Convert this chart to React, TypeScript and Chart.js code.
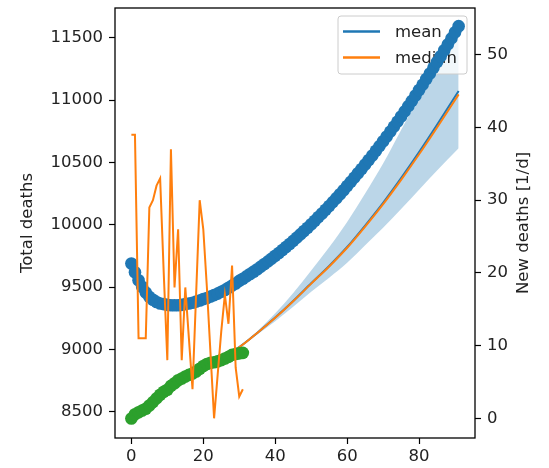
import React, { useEffect, useRef } from "react";
import { Chart, registerables } from "chart.js";

Chart.register(...registerables);

// ---------- data ----------
const X_TICKS = [0, 20, 40, 60, 80];
const LEFT_TICKS = [8500, 9000, 9500, 10000, 10500, 11000, 11500];
const RIGHT_TICKS = [0, 10, 20, 30, 40, 50];

const observedDays = [0, 1, 2, 3, 4, 5, 6, 7, 8, 9, 10, 11, 12, 13, 14, 15, 16, 17, 18, 19, 20, 21, 22, 23, 24, 25, 26, 27, 28, 29, 30, 31];
const observedNewDeaths = [39, 39, 11, 11, 11, 29, 30, 32, 33, 20, 8, 37, 18, 26, 8, 18, 11, 4, 17, 30, 26, 18, 9, 0, 6, 12, 17, 13, 21, 7, 3, 4];
const observedTotalDeaths = [8446, 8480, 8496, 8510, 8524, 8550, 8577, 8607, 8636, 8660, 8676, 8707, 8728, 8752, 8766, 8782, 8795, 8806, 8822, 8845, 8867, 8883, 8892, 8897, 8904, 8914, 8927, 8940, 8956, 8963, 8968, 8972];

const modelDays = [0, 1, 2, 3, 4, 5, 6, 7, 8, 9, 10, 11, 12, 13, 14, 15, 16, 17, 18, 19, 20, 21, 22, 23, 24, 25, 26, 27, 28, 29, 30, 31, 32, 33, 34, 35, 36, 37, 38, 39, 40, 41, 42, 43, 44, 45, 46, 47, 48, 49, 50, 51, 52, 53, 54, 55, 56, 57, 58, 59, 60, 61, 62, 63, 64, 65, 66, 67, 68, 69, 70, 71, 72, 73, 74, 75, 76, 77, 78, 79, 80, 81, 82, 83, 84, 85, 86, 87, 88, 89, 90, 91];
const modelNewDeaths = [
  21.3, 20.1, 19.0, 18.1, 17.3, 16.7, 16.3, 16.0, 15.8, 15.7, 15.6, 15.55, 15.55, 15.55, 15.6, 15.7, 15.8, 15.9, 16.05, 16.2,
  16.4, 16.55, 16.75, 16.95, 17.15, 17.4, 17.65, 17.95, 18.25, 18.55, 18.9, 19.2, 19.52, 19.84, 20.17, 20.51, 20.86, 21.22, 21.59, 21.96,
  22.35, 22.74, 23.15, 23.56, 23.98, 24.41, 24.85, 25.3, 25.76, 26.22, 26.7, 27.18, 27.68, 28.18, 28.69, 29.21, 29.74, 30.28, 30.83, 31.38,
  31.95, 32.52, 33.11, 33.7, 34.3, 34.91, 35.53, 36.16, 36.8, 37.44, 38.1, 38.76, 39.44, 40.12, 40.81, 41.51, 42.22, 42.94, 43.67, 44.4,
  45.15, 45.9, 46.67, 47.44, 48.22, 49.01, 49.81, 50.62, 51.44, 52.26, 53.1, 53.94,
];

const forecastDays = [0, 5, 10, 15, 20, 25, 30, 35, 40, 45, 50, 55, 60, 65, 70, 75, 80, 85, 91];
const forecastMedian = [8470, 8570, 8680, 8790, 8880, 8935, 9017, 9131, 9253, 9386, 9527, 9665, 9815, 9985, 10165, 10360, 10565, 10780, 11045];
const forecastMean = [8470, 8570, 8680, 8790, 8880, 8935, 9018, 9132, 9255, 9388, 9530, 9669, 9821, 9993, 10175, 10373, 10582, 10801, 11072];
const forecastUpper = [8470, 8570, 8680, 8790, 8880, 8935, 9022, 9146, 9290, 9452, 9632, 9818, 10022, 10250, 10490, 10760, 11020, 11270, 11581];
const forecastLower = [8470, 8570, 8680, 8790, 8880, 8935, 9012, 9119, 9225, 9341, 9462, 9575, 9695, 9835, 9975, 10125, 10280, 10435, 10613];

const LEGEND_LABELS = ["mean", "median"];
const LEFT_TITLE = "Total deaths";
const RIGHT_TITLE = "New deaths [1/d]";

// ---------- style ----------
const FONT = "DejaVu Sans";
const FS = 16.5;
const TEXT = "#222222";
const C0 = "#1f77b4";
const C1 = "#ff7f0e";
const C2 = "#2ca02c";

function pts(xs: number[], ys: number[]) {
  return xs.map((x, i) => ({ x, y: ys[i] }));
}

const decorPlugin = {
  id: "mplDecor",
  afterDatasetDraw(chart: any, args: any) {
    if (args.index !== 2) return;
    const { ctx, chartArea: a } = chart;
    const w = 129;
    const h = 58;
    const left = a.right - 8 - w;
    const top = a.top + 8;
    const r = 3;
    ctx.save();
    ctx.beginPath();
    ctx.moveTo(left + r, top);
    ctx.lineTo(left + w - r, top);
    ctx.arcTo(left + w, top, left + w, top + r, r);
    ctx.lineTo(left + w, top + h - r);
    ctx.arcTo(left + w, top + h, left + w - r, top + h, r);
    ctx.lineTo(left + r, top + h);
    ctx.arcTo(left, top + h, left, top + h - r, r);
    ctx.lineTo(left, top + r);
    ctx.arcTo(left, top, left + r, top, r);
    ctx.closePath();
    ctx.fillStyle = "rgba(255,255,255,0.8)";
    ctx.fill();
    ctx.strokeStyle = "#cccccc";
    ctx.lineWidth = 1;
    ctx.stroke();
    const colors = [C0, C1];
    LEGEND_LABELS.forEach((label, i) => {
      const y = top + 15.5 + i * 26;
      ctx.beginPath();
      ctx.moveTo(left + 5, y);
      ctx.lineTo(left + 42, y);
      ctx.strokeStyle = colors[i];
      ctx.lineWidth = 2.5;
      ctx.stroke();
      ctx.fillStyle = TEXT;
      ctx.font = `${FS}px "${FONT}"`;
      ctx.textAlign = "left";
      ctx.textBaseline = "middle";
      ctx.fillText(label, left + 57, y + 1);
    });
    ctx.restore();
  },
  afterDatasetsDraw(chart: any) {
    const { ctx, chartArea: a } = chart;
    ctx.save();
    ctx.strokeStyle = "#000";
    ctx.lineWidth = 1.3;
    ctx.strokeRect(a.left, a.top, a.right - a.left, a.bottom - a.top);
    ctx.restore();
  },
  afterDraw(chart: any) {
    const { ctx, chartArea: a } = chart;
    ctx.save();
    ctx.translate(524, (a.top + a.bottom) / 2);
    ctx.rotate(-Math.PI / 2);
    ctx.fillStyle = TEXT;
    ctx.font = `${FS}px "${FONT}"`;
    ctx.textAlign = "center";
    ctx.textBaseline = "middle";
    ctx.fillText(RIGHT_TITLE, 0, 0);
    ctx.restore();
  },
};

const tickFont = { family: FONT, size: FS };
const gridCfg = { drawOnChartArea: false, drawTicks: true, tickLength: 6, tickColor: "#000", tickWidth: 1.2 };

export default function App() {
  const ref = useRef<HTMLCanvasElement>(null);
  useEffect(() => {
    const chart = new Chart(ref.current as HTMLCanvasElement, {
      type: "line",
      data: {
        datasets: [
          {
            data: pts(observedDays, observedNewDeaths),
            yAxisID: "y1",
            borderColor: C1,
            borderWidth: 2,
            pointRadius: 0,
            fill: false,
            order: 0,
          },
          {
            data: pts(modelDays, modelNewDeaths),
            yAxisID: "y1",
            showLine: false,
            pointRadius: 6.3,
            pointBorderWidth: 0,
            pointBackgroundColor: C0,
            pointBorderColor: C0,
            order: 1,
          },
          {
            data: pts(observedDays, observedTotalDeaths),
            yAxisID: "y",
            showLine: false,
            pointRadius: 6.3,
            pointBorderWidth: 0,
            pointBackgroundColor: C2,
            pointBorderColor: C2,
            order: 2,
          },
          {
            data: pts(forecastDays, forecastMedian),
            yAxisID: "y",
            borderColor: C1,
            borderWidth: 2,
            pointRadius: 0,
            cubicInterpolationMode: "monotone",
            fill: false,
            order: 3,
          },
          {
            data: pts(forecastDays, forecastMean),
            yAxisID: "y",
            borderColor: C0,
            borderWidth: 2,
            pointRadius: 0,
            cubicInterpolationMode: "monotone",
            fill: false,
            order: 4,
          },
          {
            data: pts(forecastDays, forecastUpper),
            yAxisID: "y",
            borderColor: "rgba(0,0,0,0)",
            borderWidth: 1,
            backgroundColor: "rgba(31,119,180,0.3)",
            pointRadius: 0,
            cubicInterpolationMode: "monotone",
            fill: "+1",
            order: 5,
          },
          {
            data: pts(forecastDays, forecastLower),
            yAxisID: "y",
            borderColor: "rgba(0,0,0,0)",
            borderWidth: 1,
            pointRadius: 0,
            cubicInterpolationMode: "monotone",
            fill: false,
            order: 6,
          },
        ] as any,
      },
      options: {
        animation: false,
        responsive: false,
        devicePixelRatio: 1,
        events: [],
        layout: { padding: { top: 8, left: 0, right: 0, bottom: 0 } },
        plugins: { legend: { display: false }, tooltip: { enabled: false } },
        scales: {
          x: {
            type: "linear",
            min: -4.55,
            max: 95.55,
            afterBuildTicks: (s: any) => {
              s.ticks = X_TICKS.map((v) => ({ value: v }));
            },
            afterFit: (s: any) => {
              s.height = 30;
              s.paddingLeft = 0;
              s.paddingRight = 0;
            },
            grid: gridCfg,
            border: { display: false },
            ticks: {
              font: tickFont,
              color: TEXT,
              padding: 3,
              autoSkip: false,
              maxRotation: 0,
              callback: (v: any) => String(v),
            },
          },
          y: {
            type: "linear",
            position: "left",
            min: 8289,
            max: 11738,
            afterBuildTicks: (s: any) => {
              s.ticks = LEFT_TICKS.map((v) => ({ value: v }));
            },
            afterFit: (s: any) => {
              s.width = 115;
              s.paddingTop = 0;
              s.paddingBottom = 0;
            },
            grid: gridCfg,
            border: { display: false },
            title: {
              display: true,
              text: LEFT_TITLE,
              color: TEXT,
              font: tickFont,
              padding: { top: 18, bottom: 0 },
            },
            ticks: {
              font: tickFont,
              color: TEXT,
              padding: 6,
              autoSkip: false,
              callback: (v: any) => String(v),
            },
          },
          y1: {
            type: "linear",
            position: "right",
            min: -2.71,
            max: 56.44,
            afterBuildTicks: (s: any) => {
              s.ticks = RIGHT_TICKS.map((v) => ({ value: v }));
            },
            afterFit: (s: any) => {
              s.width = 74;
              s.paddingTop = 0;
              s.paddingBottom = 0;
            },
            grid: gridCfg,
            border: { display: false },
            ticks: {
              font: tickFont,
              color: TEXT,
              padding: 6,
              autoSkip: false,
              callback: (v: any) => String(v),
            },
          },
        },
      } as any,
      plugins: [decorPlugin],
    });
    return () => chart.destroy();
  }, []);
  return (
    <div style={{ position: "absolute", left: 0, top: 0, width: 549, height: 468 }}>
      <canvas ref={ref} width={549} height={468} style={{ display: "block" }} />
    </div>
  );
}
